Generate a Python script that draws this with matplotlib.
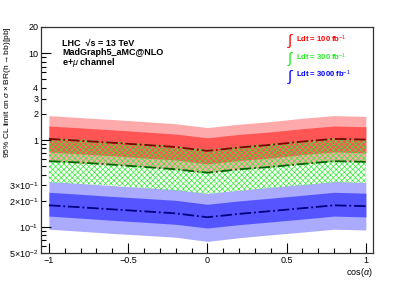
import numpy as np
import matplotlib
matplotlib.use('Agg')
import matplotlib.pyplot as plt
from matplotlib.ticker import FixedLocator, FixedFormatter

plt.rcParams['font.family'] = ['Liberation Sans', 'DejaVu Sans']
plt.rcParams['mathtext.fontset'] = 'custom'
plt.rcParams['mathtext.rm'] = 'Liberation Sans'
plt.rcParams['mathtext.it'] = 'Liberation Sans:italic'
plt.rcParams['mathtext.bf'] = 'Liberation Sans:bold'
plt.rcParams['hatch.linewidth'] = 0.5
plt.rcParams['hatch.color'] = '#33ee33'

# cos(alpha) scan points
cosa = [-1.0, -0.8, -0.6, -0.4, -0.2, 0.0, 0.2, 0.4, 0.6, 0.8, 1.0]

# 100 fb^-1
red_med = [1.03, 0.98, 0.93, 0.88, 0.83, 0.75, 0.82, 0.88, 0.96, 1.03, 1.01]
red_up1 = [1.45, 1.38, 1.31, 1.24, 1.17, 1.06, 1.16, 1.24, 1.35, 1.45, 1.42]
red_dn1 = [0.73, 0.69, 0.66, 0.62, 0.59, 0.53, 0.58, 0.62, 0.68, 0.73, 0.71]
red_up2 = [1.91, 1.81, 1.72, 1.63, 1.54, 1.39, 1.52, 1.63, 1.78, 1.91, 1.87]
red_dn2 = [0.57, 0.54, 0.52, 0.49, 0.46, 0.42, 0.46, 0.49, 0.53, 0.57, 0.56]

# 300 fb^-1
grn_med = [0.57, 0.55, 0.52, 0.49, 0.46, 0.42, 0.46, 0.49, 0.53, 0.57, 0.56]
grn_up2 = [1.05, 1.02, 0.96, 0.91, 0.85, 0.78, 0.85, 0.91, 0.98, 1.05, 1.04]
grn_dn2 = [0.325, 0.31, 0.30, 0.28, 0.26, 0.24, 0.26, 0.28, 0.30, 0.325, 0.32]

# 3000 fb^-1
blu_med = [0.177, 0.168, 0.159, 0.151, 0.143, 0.129, 0.141, 0.152, 0.164, 0.177, 0.173]
blu_up1 = [0.250, 0.237, 0.224, 0.213, 0.202, 0.182, 0.199, 0.214, 0.231, 0.250, 0.244]
blu_dn1 = [0.133, 0.126, 0.119, 0.113, 0.107, 0.097, 0.106, 0.114, 0.123, 0.133, 0.130]
blu_up2 = [0.333, 0.316, 0.299, 0.284, 0.269, 0.243, 0.265, 0.286, 0.308, 0.333, 0.325]
blu_dn2 = [0.094, 0.089, 0.084, 0.080, 0.076, 0.068, 0.075, 0.081, 0.087, 0.094, 0.092]

fig = plt.figure(figsize=(4.15, 2.81), dpi=100)
ax = fig.add_axes([41/415, 1 - 253/281, 332/415, 226/281])

# blue
ax.fill_between(cosa, blu_dn2, blu_up2, color='#aaaaff', lw=0)
ax.fill_between(cosa, blu_dn1, blu_up1, color='#5555ff', lw=0)
ax.plot(cosa, blu_med, color='#000080', ls='-.', lw=1.3)

# red
ax.fill_between(cosa, red_dn2, red_up2, color='#ffaaaa', lw=0)
ax.fill_between(cosa, red_dn1, red_up1, color='#ff5555', lw=0)
ax.plot(cosa, red_med, color='#800000', ls='-.', lw=1.3)

# green (hatched only)
ax.fill_between(cosa, grn_dn2, grn_up2, facecolor='none', edgecolor='#33ee33', hatch='xxxxxx', lw=0)
ax.plot(cosa, grn_med, color='#006600', ls='-.', lw=1.3)

ax.set_yscale('log')
ax.set_ylim(0.05, 20)
ax.set_xlim(-1.05, 1.045)

ax.yaxis.set_major_locator(FixedLocator([0.1, 1, 10]))
ax.yaxis.set_major_formatter(FixedFormatter(['10$^{-1}$', '1', '10']))
minors = [v * d for d in [0.01, 0.1, 1] for v in range(2, 10)] + [20]
minor_labels = {0.05: r'5$\times$10$^{-2}$', 0.2: r'2$\times$10$^{-1}$', 0.3: r'3$\times$10$^{-1}$',
                2: '2', 3: '3', 4: '4', 20: '20'}
ax.yaxis.set_minor_locator(FixedLocator(minors))
ax.yaxis.set_minor_formatter(FixedFormatter([minor_labels.get(round(m, 3), '') for m in minors]))

ax.set_xticks([-1, -0.5, 0, 0.5, 1])
ax.set_xticklabels(['\u22121', '\u22120.5', '0', '0.5', '1'])
ax.set_xticks(np.arange(-1, 1.01, 0.1), minor=True)

ax.tick_params(which='both', direction='in', top=False, right=False, labelsize=6.5, pad=2, width=0.8)
ax.tick_params(which='major', length=7)
ax.tick_params(which='minor', length=3.5)
for s in ax.spines.values():
    s.set_linewidth(0.9)
    s.set_color('#333333')

ax.set_ylabel(r'95% CL limit on $\sigma\times$BR(h$\rightarrow$bb)[pb]', fontsize=6, loc='top')
ax.yaxis.set_label_coords(-0.085, 1.0)
ax.set_xlabel(r'cos($\alpha$)', fontsize=6.5, loc='right', labelpad=1)

ax.text(0.063, 0.929, 'LHC  \u221as = 13 TeV', transform=ax.transAxes, fontsize=6.5, fontweight='bold', va='center')
ax.text(0.063, 0.885, 'MadGraph5_aMC@NLO', transform=ax.transAxes, fontsize=6.5, fontweight='bold', va='center')
ax.text(0.063, 0.841, r'e+$\mu$ channel', transform=ax.transAxes, fontsize=6.5, fontweight='bold', va='center')

leg = [('100', '#ff0000', 0.947), ('300', '#22ee22', 0.867), ('3000', '#0000ff', 0.79)]
for lumi, col, yy in leg:
    ax.text(0.742, yy - 0.01, r'$\int$', transform=ax.transAxes, fontsize=11, color=col, va='center')
    ax.text(0.768, yy, 'Ldt = ' + lumi + r' fb$^{-1}$', transform=ax.transAxes, fontsize=5.5,
            fontweight='bold', color=col, va='center')

fig.savefig('out.png', dpi=100)
